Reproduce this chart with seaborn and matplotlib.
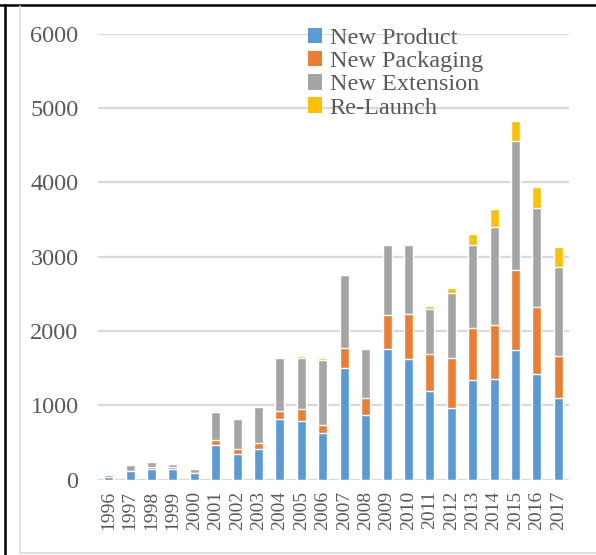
import numpy as np
import pandas as pd
import matplotlib
matplotlib.use("Agg")
import matplotlib.pyplot as plt
from matplotlib.patches import Patch
from matplotlib.lines import Line2D
import seaborn as sns

years = [str(y) for y in range(1996, 2018)]
new_product = [30, 115, 140, 140, 85, 465, 343, 410, 815, 787, 626, 1505,
               868, 1756, 1622, 1191, 966, 1343, 1353, 1747, 1424, 1101]
new_packaging = [25, 5, 32, 24, 8, 70, 67, 81, 107, 162, 107, 269,
                 233, 458, 609, 502, 673, 700, 726, 1077, 898, 565]
new_extension = [5, 70, 68, 48, 45, 377, 404, 485, 717, 690, 879, 982,
                 655, 942, 925, 602, 871, 1113, 1319, 1732, 1336, 1194]
re_launch = [15, 8, 13, 9, 8, 13, 18, 17, 14, 27, 27, 14,
             18, 13, 13, 40, 67, 148, 242, 269, 279, 269]

series = ["New Product", "New Packaging", "New Extension", "Re-Launch"]
colors = ["#5B9BD5", "#ED7D31", "#A5A5A5", "#FFC000"]

df = pd.DataFrame({"year": years, "New Product": new_product,
                   "New Packaging": new_packaging,
                   "New Extension": new_extension, "Re-Launch": re_launch})
cum = df[series].cumsum(axis=1)

sns.set_style("white")
plt.rcParams["font.family"] = ["Liberation Serif", "DejaVu Serif"]

fig = plt.figure(figsize=(5.96, 5.55), dpi=100)
ax = fig.add_axes([0.1644, 0.136, 0.7903, 0.8036])

# draw cumulative totals from the top series down so they overlap into a stack
for name, col in zip(series[::-1], colors[::-1]):
    sns.barplot(x=df["year"], y=cum[name], color=col, width=0.42,
                saturation=1, ax=ax, zorder=3)

ax.set_ylim(0, 6000)
ax.set_yticks(range(0, 6001, 1000))
ax.set_xlim(-0.5, len(years) - 0.5)
ax.yaxis.grid(True, color="#D9D9D9", linewidth=1.6, zorder=0)
ax.set_axisbelow(True)
for s in ax.spines.values():
    s.set_visible(False)
ax.set_xlabel("")
ax.set_ylabel("")
ax.tick_params(axis="y", length=0, pad=14, labelsize=17.5, labelcolor="#595959")
ax.tick_params(axis="x", length=0, pad=8, labelsize=14, labelcolor="#595959",
               labelrotation=90)

handles = [Patch(facecolor=c, edgecolor="none") for c in colors]
leg = ax.legend(handles, series, loc="upper left", bbox_to_anchor=(0.425, 1.035),
                frameon=False, fontsize=17.5, handlelength=0.6, handleheight=0.6,
                handletextpad=0.3, labelspacing=0.08, borderaxespad=0)
for t in leg.get_texts():
    t.set_color("#595959")

# frame lines around the picture
fig.add_artist(Line2D([0, 1], [1 - 5 / 555, 1 - 5 / 555], color="black", lw=1.8))
fig.add_artist(Line2D([5 / 596, 5 / 596], [0, 1 - 5 / 555], color="black", lw=1.8))
fig.add_artist(Line2D([20 / 596, 20 / 596], [2 / 555, 1 - 6 / 555], color="#D9D9D9", lw=1.2))
fig.add_artist(Line2D([20 / 596, 1], [2 / 555, 2 / 555], color="#D9D9D9", lw=1.2))

fig.savefig("out.png", dpi=100)
